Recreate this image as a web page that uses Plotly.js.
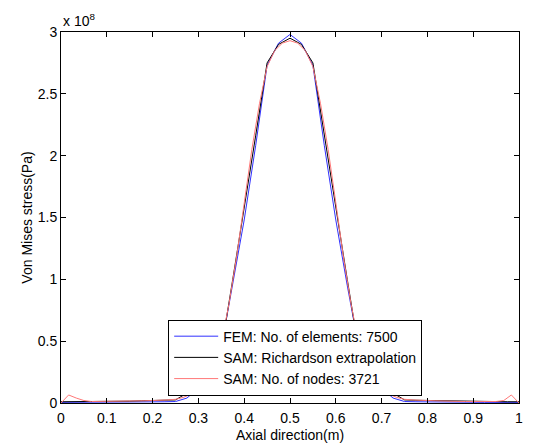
<!DOCTYPE html>
<html>
<head>
<meta charset="utf-8">
<script src="https://cdn.plot.ly/plotly-3.0.1.min.js"></script>
<style>html,body{margin:0;padding:0;background:#fff;}#chart{width:534px;height:444px;}</style>
</head>
<body>
<div id="chart"></div>
<script>
// Axial positions (m)
const xFEM = [0,0.025,0.05,0.075,0.1,0.125,0.15,0.175,0.2,0.225,0.25,0.275,0.3,0.325,0.35,0.375,0.4,0.425,0.45,0.475,0.5,
              0.525,0.55,0.575,0.6,0.625,0.65,0.675,0.7,0.725,0.75,0.775,0.8,0.825,0.85,0.875,0.9,0.925,0.95,0.975,1];
// Von Mises stress, units of 1e8 Pa
const yFEM = [0.005,0.005,0.005,0.005,0.006,0.006,0.007,0.007,0.008,0.01,0.012,0.04,0.12,0.27,0.45,0.95,1.48,2.08,2.73,2.91,2.98,
              2.91,2.73,2.08,1.48,0.95,0.45,0.27,0.12,0.04,0.012,0.01,0.008,0.007,0.007,0.006,0.006,0.005,0.005,0.005,0.005];

const xRich = xFEM;
const yRich = [0.01,0.01,0.01,0.012,0.015,0.015,0.015,0.018,0.02,0.022,0.025,0.08,0.14,0.28,0.43,1.0,1.57,2.16,2.75,2.90,2.95,
               2.90,2.75,2.16,1.57,1.0,0.43,0.28,0.14,0.08,0.025,0.022,0.02,0.018,0.015,0.015,0.015,0.012,0.01,0.01,0.01];

// SAM: 61 nodes along the axis (k/60)
const xSAM = [0,0.0167,0.0333,0.05,0.0667,0.0833,0.1,0.1167,0.1333,0.15,0.1667,0.1833,0.2,0.2167,0.2333,0.25,0.2667,0.2833,0.3,0.3167,
              0.3333,0.35,0.3667,0.3833,0.4,0.4167,0.4333,0.45,0.4667,0.4833,0.5,0.5167,0.5333,0.55,0.5667,0.5833,0.6,0.6167,0.6333,0.65,
              0.6667,0.6833,0.7,0.7167,0.7333,0.75,0.7667,0.7833,0.8,0.8167,0.8333,0.85,0.8667,0.8833,0.9,0.9167,0.9333,0.95,0.9667,0.9833,1];
const ySAM = [0.0,0.065,0.04,0.02,0.012,0.012,0.012,0.012,0.013,0.014,0.015,0.018,0.02,0.02,0.025,0.03,0.045,0.07,0.13,0.2,
              0.3,0.48,0.80,1.18,1.62,2.05,2.42,2.72,2.85,2.91,2.93,2.91,2.85,2.72,2.42,2.05,1.62,1.18,0.80,0.48,
              0.3,0.2,0.13,0.07,0.045,0.03,0.025,0.02,0.02,0.018,0.015,0.014,0.013,0.012,0.012,0.012,0.012,0.012,0.02,0.065,0.0];

const scale = 1e8;
const yTickVals = [0,0.5,1,1.5,2,2.5,3];
const yTickText = ['0','0.5','1','1.5','2','2.5','3'];
const xTickVals = [0,0.1,0.2,0.3,0.4,0.5,0.6,0.7,0.8,0.9,1];
const xTickText = ['0','0.1','0.2','0.3','0.4','0.5','0.6','0.7','0.8','0.9','1'];

const names = ['FEM: No. of elements: 7500','SAM: Richardson extrapolation','SAM: No. of nodes: 3721'];

const font = {family:'Liberation Sans, Arial, sans-serif', size:14, color:'#000'};

const traces = [
  {x:xFEM, y:yFEM.map(v=>v*scale), name:names[0], mode:'lines', line:{color:'#3030ff', width:1}},
  {x:xRich, y:yRich.map(v=>v*scale), name:names[1], mode:'lines', line:{color:'#000000', width:1}},
  {x:xSAM, y:ySAM.map(v=>v*scale), name:names[2], mode:'lines', line:{color:'#ff7878', width:1}}
];

const layout = {
  width:534, height:444,
  margin:{l:61, r:15, t:32, b:41, pad:0},
  paper_bgcolor:'#fff', plot_bgcolor:'#fff',
  font:font,
  showlegend:true,
  legend:{x:0.234, y:0.02, xanchor:'left', yanchor:'bottom', bgcolor:'#fff', bordercolor:'#000', borderwidth:1,
          font:font, itemwidth:44, tracegroupgap:0},
  xaxis:{range:[0,1], tickvals:xTickVals, ticktext:xTickText, ticks:'inside', ticklen:5, tickcolor:'#000',
         showline:true, linecolor:'#000', linewidth:1, mirror:'ticks', showgrid:false, zeroline:false,
         ticklabelstandoff:2,
         title:{text:'Axial direction(m)', font:font, standoff:5}, tickfont:font},
  yaxis:{range:[0,3*scale], tickvals:yTickVals.map(v=>v*scale), ticktext:yTickText, ticks:'inside', ticklen:5, tickcolor:'#000',
         showline:true, linecolor:'#000', linewidth:1, mirror:'ticks', showgrid:false, zeroline:false,
         title:{text:'Von Mises stress(Pa)', font:font, standoff:1}, tickfont:font},
  annotations:[{xref:'paper', yref:'paper', x:0, y:1, xanchor:'left', yanchor:'bottom', yshift:1,
                text:'x 10<sup>8</sup>', showarrow:false, font:font}]
};

Plotly.newPlot('chart', traces, layout, {staticPlot:true, displayModeBar:false});
</script>
</body>
</html>
